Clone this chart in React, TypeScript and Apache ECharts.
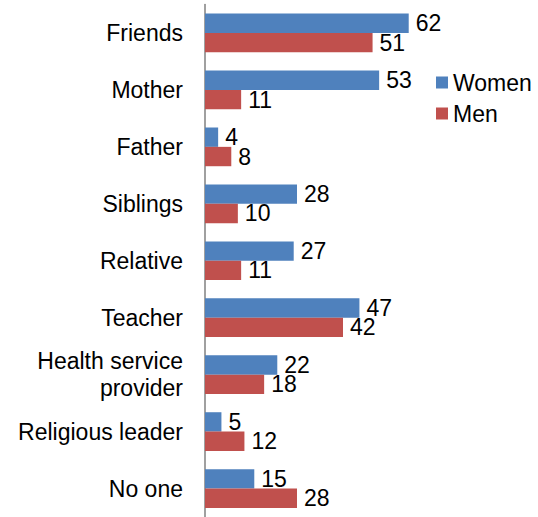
import React, { useEffect, useRef } from "react";
import * as echarts from "echarts";

const categories = [
  "Friends",
  "Mother",
  "Father",
  "Siblings",
  "Relative",
  "Teacher",
  "Health service\nprovider",
  "Religious leader",
  "No one",
];
const women = [62, 53, 4, 28, 27, 47, 22, 5, 15];
const men = [51, 11, 8, 10, 11, 42, 18, 12, 28];

const FONT = "'Liberation Sans', Arial, sans-serif";

export default function App() {
  const ref = useRef<HTMLDivElement>(null);
  useEffect(() => {
    if (!ref.current) return;
    const chart = echarts.init(ref.current, undefined, { renderer: "svg" });
    const label = {
      show: true,
      position: "right" as const,
      distance: 7,
      color: "#000",
      fontSize: 23,
      fontFamily: FONT,
    };
    chart.setOption({
      animation: false,
      backgroundColor: "#fff",
      textStyle: { fontFamily: FONT },
      legend: {
        orient: "vertical",
        left: 431,
        top: 66,
        itemWidth: 12,
        itemHeight: 12,
        itemGap: 8,
        icon: "rect",
        textStyle: { fontSize: 23, color: "#000", fontFamily: FONT },
        data: ["Women", "Men"],
      },
      grid: { left: 205, top: 4.5, width: 230, height: 515, containLabel: false },
      xAxis: {
        type: "value",
        min: 0,
        max: 70,
        show: false,
        splitLine: { show: false },
      },
      yAxis: {
        type: "category",
        inverse: true,
        data: categories,
        axisLine: { show: true, lineStyle: { color: "#808080", width: 1.5 } },
        axisTick: { show: false },
        axisLabel: {
          color: "#000",
          fontSize: 23,
          fontFamily: FONT,
          margin: 22,
          lineHeight: 27,
          align: "right",
        },
      },
      series: [
        {
          name: "Women",
          type: "bar",
          data: women,
          barGap: "0%",
          barCategoryGap: "32%",
          itemStyle: { color: "#4F81BD" },
          label,
        },
        {
          name: "Men",
          type: "bar",
          data: men,
          barGap: "0%",
          barCategoryGap: "32%",
          itemStyle: { color: "#C0504D" },
          label,
        },
      ],
    });
    return () => chart.dispose();
  }, []);
  return (
    <div
      ref={ref}
      style={{ position: "absolute", left: 0, top: 0, width: 538, height: 517 }}
    />
  );
}
